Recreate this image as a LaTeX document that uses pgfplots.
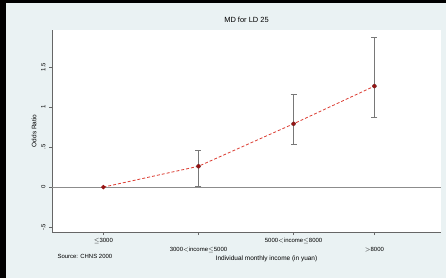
\documentclass[border=0pt]{standalone}
\usepackage{pgfplots}
\pgfplotsset{compat=1.18}
\usepackage{fontspec}
\setmainfont{Liberation Sans}
\definecolor{outerbg}{RGB}{234,242,243}
\definecolor{mkred}{RGB}{150,20,20}
\definecolor{lnred}{RGB}{220,60,50}
\definecolor{cigray}{RGB}{120,120,120}
\begin{document}
\begin{tikzpicture}[x=1bp,y=1bp]
\fill[outerbg] (0,0) rectangle (446,278);
\fill[black] (0,0) rectangle (6,278);
\fill[black] (0,275) rectangle (446,278);
\begin{axis}[
  at={(52bp,46bp)}, anchor=south west,
  scale only axis, width=389bp, height=202bp,
  xmin=0.46, xmax=4.55, ymin=-0.56, ymax=1.96,
  axis background/.style={fill=white},
  axis x line*=bottom, axis y line*=left,
  axis line style={draw=black!60},
  xtick={1,2,3,3.85},
  xticklabels={$\leq$3000,3000$<$income$\leq$5000,5000$<$income$\leq$8000,$>$8000},
  xticklabel style={font=\fontsize{6}{7}\selectfont, yshift={mod(\ticknum,2)==1 ? -9bp : 0bp}},
  ytick={-0.5,0,0.5,1,1.5},
  yticklabels={-.5,0,.5,1,1.5},
  yticklabel style={font=\fontsize{6}{7}\selectfont, rotate=90, anchor=south},
  tick style={draw=black!60},
  major tick length=3bp,
  tick align=outside,
  title={MD for LD 25},
  title style={font=\fontsize{7.5}{9}\selectfont, yshift=-2bp},
  ylabel={Odds Ratio},
  ylabel style={font=\fontsize{6.5}{8}\selectfont, yshift=-2bp},
  xlabel={Individual monthly income (in yuan)},
  xlabel style={font=\fontsize{6.5}{8}\selectfont, xshift=20bp, yshift=4bp},
  clip=false,
]
\addplot[black!45, line width=0.5pt, forget plot] coordinates {(0.46,0) (4.55,0)};
\addplot[cigray, only marks, mark=none,
  error bars/.cd, y dir=both, y explicit, error mark=-, error bar style={cigray, line width=0.7pt},
  error mark options={mark size=3bp, rotate=90}]
  coordinates {
    (2,0.26) += (0,0.20) -= (0,0.25)
    (3,0.79) += (0,0.37) -= (0,0.25)
    (3.85,1.26) += (0,0.615) -= (0,0.385)
  };
\addplot[lnred, densely dashed, line width=0.8pt, mark=*, mark size=1.8pt,
  mark options={solid, fill=mkred, draw=mkred}]
  coordinates {(1,0) (2,0.26) (3,0.79) (3.85,1.26)};
\end{axis}
\node[font=\fontsize{6}{7}\selectfont, anchor=west] at (54,22) {Source: CHNS 2000};
\end{tikzpicture}
\end{document}
